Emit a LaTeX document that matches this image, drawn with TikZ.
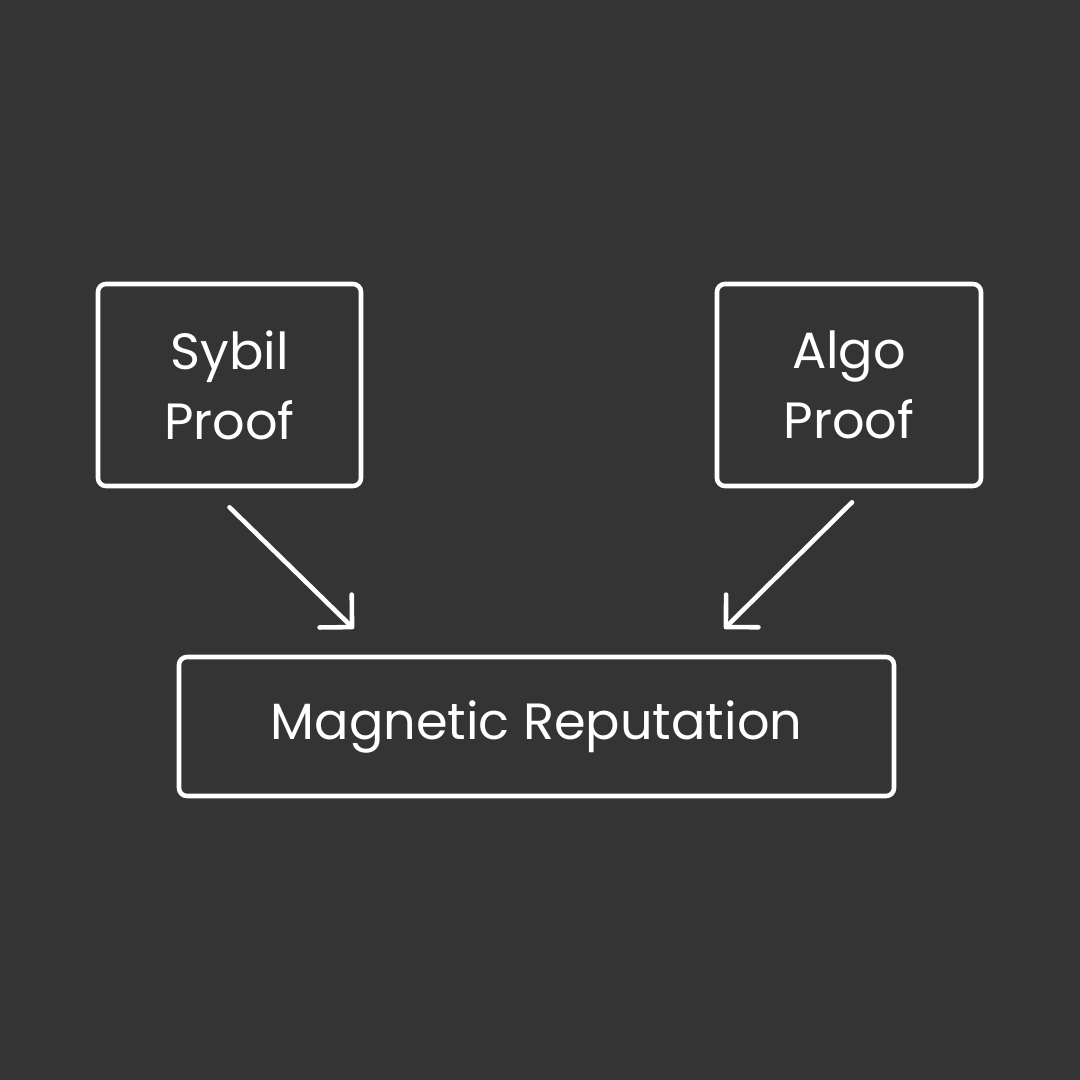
\documentclass[tikz,border=0pt]{standalone}
\usepackage{fontspec}
\setmainfont{Poppins}
\usetikzlibrary{arrows.meta,positioning,calc}
\definecolor{board}{RGB}{52,52,52}
\definecolor{ink}{RGB}{255,255,255}

\tikzset{
  proofbox/.style={draw=ink,line width=2.6pt,rounded corners=1.6mm,align=center,
    text=ink,font=\fontsize{29}{40}\selectfont,inner sep=0pt},
  flow/.style={draw=ink,line width=2.6pt,line cap=round,
    -{Straight Barb[length=4.6mm,width=9.2mm,line cap=round,line join=round]}}
}

\begin{document}
\begin{tikzpicture}
  \fill[board] (0,0) rectangle (21.6,21.6);
  \useasboundingbox (0,0) rectangle (21.6,21.6);
  \node[proofbox,minimum width=5.26cm,minimum height=4.04cm] (sybil) at (4.59,13.9) {Sybil\\Proof};
  \node[proofbox,minimum width=5.28cm,minimum height=4.04cm] (algo) at (16.98,13.9) {Algo\\Proof};
  \node[proofbox,minimum width=14.3cm,minimum height=2.78cm] (magnetic) at (10.73,7.07) {Magnetic Reputation};
  % arrows stop short of the boxes
  \coordinate (sybilout) at ([yshift=-0.38cm]sybil.south);
  \coordinate (algoout) at ([xshift=0.06cm,yshift=-0.28cm]algo.south);
  \coordinate (magleft) at ([xshift=3.54cm,yshift=0.52cm]magnetic.north west);
  \coordinate (magright) at ([xshift=-3.44cm,yshift=0.52cm]magnetic.north east);
  \draw[flow] (sybilout) -- (magleft);
  \draw[flow] (algoout) -- (magright);
\end{tikzpicture}
\end{document}
